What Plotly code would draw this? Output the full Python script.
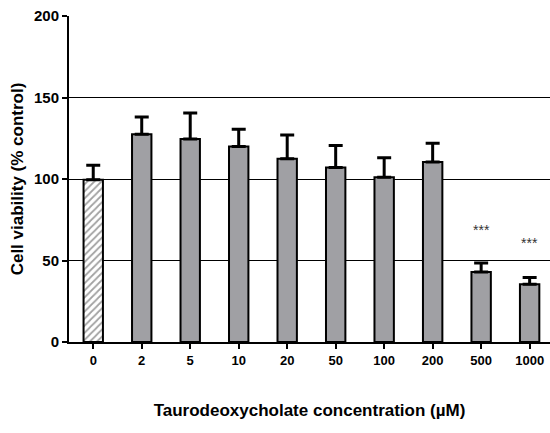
import plotly.graph_objects as go

categories = ["0", "2", "5", "10", "20", "50", "100", "200", "500", "1000"]
viability = [99.5, 127.5, 124.5, 120, 112.5, 107, 101, 110.5, 43, 35.5]
sem_upper = [9, 10.5, 16, 10.5, 14.5, 13.5, 12, 11.5, 5.5, 4]
star_labels = ["", "", "", "", "", "", "", "", "***", "***"]
star_y = [0, 0, 0, 0, 0, 0, 0, 0, 69, 61]
y_ticks = [0, 50, 100, 150, 200]

gray = "#a0a0a4"
colors = ["white"] + [gray] * (len(categories) - 1)
shapes = ["/"] + [""] * (len(categories) - 1)

fig = go.Figure()
fig.add_trace(go.Bar(
    x=categories, y=viability, width=0.4,
    marker=dict(color=colors, line=dict(color="black", width=2),
                pattern=dict(shape=shapes, fgcolor="#111111", bgcolor="white", size=5, solidity=0.35)),
    error_y=dict(type="data", array=sem_upper, arrayminus=[0] * len(sem_upper), symmetric=False,
                 color="black", thickness=3, width=7),
    showlegend=False,
))

for i, (t, yv) in enumerate(zip(star_labels, star_y)):
    if t:
        fig.add_annotation(x=i, y=yv, xref="x", yref="y", text=t, showarrow=False,
                           font=dict(family="Liberation Sans, Arial", size=14, color="#333333"))

title_font = dict(family="Liberation Sans, Arial", size=17, color="black")
fig.update_layout(
    width=550, height=433,
    margin=dict(l=69, r=0, t=16, b=91),
    plot_bgcolor="white", paper_bgcolor="white",
    xaxis=dict(type="category", range=[-0.5, 9.42], showline=True, linecolor="black", linewidth=2,
               ticks="outside", ticklen=5, tickwidth=2, tickcolor="black",
               tickfont=dict(family="Liberation Sans, Arial", size=13, color="black", weight="bold"),
               title=dict(text="<b>Taurodeoxycholate concentration (µM)</b>", font=title_font, standoff=38),
               showgrid=False, zeroline=False),
    yaxis=dict(range=[0, 200], tickvals=y_ticks, showline=True, linecolor="black", linewidth=2,
               ticks="outside", ticklen=5, tickwidth=2, tickcolor="black",
               tickfont=dict(family="Liberation Sans, Arial", size=15, color="black", weight="bold"),
               title=dict(text="<b>Cell viability (% control)</b>", font=title_font, standoff=6),
               showgrid=True, gridcolor="black", gridwidth=1, zeroline=False),
)

fig.write_html("out.html")
